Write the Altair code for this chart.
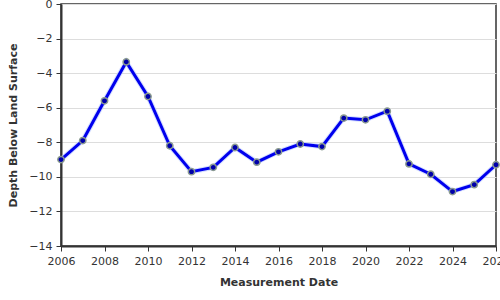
import altair as alt
import pandas as pd

years = [2006, 2007, 2008, 2009, 2010, 2011, 2012, 2013, 2014, 2015, 2016,
         2017, 2018, 2019, 2020, 2021, 2022, 2023, 2024, 2025, 2026]
depths = [-9.0, -7.9, -5.6, -3.35, -5.35, -8.2, -9.7, -9.45, -8.3, -9.15, -8.55,
          -8.1, -8.25, -6.6, -6.7, -6.2, -9.25, -9.85, -10.85, -10.45, -9.3]

df = pd.DataFrame({"year": years, "depth": depths})

font = "DejaVu Sans"

x = alt.X("year:Q", title="Measurement Date",
          scale=alt.Scale(domain=[2006, 2026], nice=False, zero=False),
          axis=alt.Axis(values=list(range(2006, 2027, 2)), format="d", grid=False,
                        labelFont=font, labelFontSize=11, labelColor="#333",
                        titleFont=font, titleFontSize=11, titleFontWeight="bold",
                        titleColor="#333", titlePadding=10,
                        domainColor="#333", domainWidth=2, tickColor="#333",
                        tickSize=5, labelPadding=4, labelFlush=False))
y = alt.Y("depth:Q", title="Depth Below Land Surface",
          scale=alt.Scale(domain=[-14, 0], nice=False, zero=False),
          axis=alt.Axis(values=list(range(-14, 1, 2)), grid=True, gridColor="#ddd",
                        labelFont=font, labelFontSize=11, labelColor="#333",
                        titleFont=font, titleFontSize=11, titleFontWeight="bold",
                        titleColor="#333", titlePadding=10,
                        domainColor="#333", domainWidth=2, tickColor="#333",
                        tickSize=5, labelPadding=4))

halo = alt.Chart(df).mark_line(color="#b8c8ff", strokeWidth=5, opacity=0.6).encode(x=x, y=y)
line = alt.Chart(df).mark_line(color="#0000ee", strokeWidth=3).encode(x=x, y=y)
points = alt.Chart(df).mark_point(filled=True, size=40, color="#0000aa",
                                  stroke="#8a9a90", strokeWidth=1.5, opacity=1).encode(x=x, y=y)

chart = (halo + line + points).properties(
    width=435, height=242,
    autosize=alt.AutoSizeParams(type="none"),
    padding={"left": 61, "top": 4, "right": 4, "bottom": 54},
).configure_view(stroke="#333", strokeWidth=1.5)

chart.save("out.html", embed_options={"renderer": "svg", "actions": False})
